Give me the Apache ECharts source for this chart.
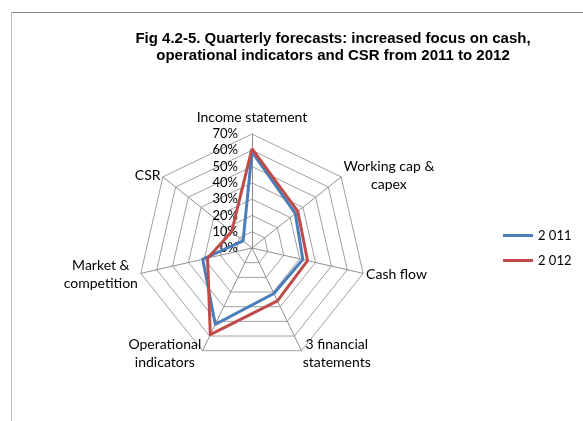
<!DOCTYPE html>
<html>
<head>
<meta charset="utf-8">
<script src="https://cdn.jsdelivr.net/npm/echarts@6/dist/echarts.min.js"></script>
<style>
html,body{margin:0;padding:0;background:#fff;}
#chart{width:583px;height:421px;}
</style>
</head>
<body>
<div id="chart"></div>
<script>
// Categories in clockwise order starting from the top
const categories = ['Income statement', 'Working cap &\ncapex', 'Cash flow', '3 financial\nstatements', 'Operational\nindicators', 'Market &\ncompetition', 'CSR'];
const tickLabels = ['0%', '10%', '20%', '30%', '40%', '50%', '60%', '70%'];
const values2011 = [59, 34, 32, 31, 52, 31, 7];
const values2012 = [61, 36, 35, 36, 59, 28, 16];
const seriesNames = ['2 011', '2 012'];

const axisMax = 70;
const axisStep = 10;

// ECharts radar goes counter-clockwise; reorder so the picture reads clockwise
const order = [0].concat(categories.map((_, i) => i).slice(1).reverse());
const reorder = arr => order.map(i => arr[i]);

const font = 'Lato, "Liberation Sans", sans-serif';

const indicators = reorder(categories).map((name, k) => {
  const ind = { name: name, min: 0, max: axisMax };
  if (k === 0) {
    ind.axisLabel = {
      show: true, margin: 14, color: '#000', fontSize: 13, fontFamily: font,
      formatter: v => tickLabels[Math.round(v / axisStep)]
    };
    ind.nameGap = 8;
    ind.nameTextStyle = { verticalAlign: 'bottom' };
  }
  return ind;
});

const chart = echarts.init(document.getElementById('chart'), null, { renderer: 'canvas' });
chart.setOption({
  animation: false,
  backgroundColor: '#fff',
  title: {
    text: 'Fig 4.2-5. Quarterly forecasts: increased focus on cash,\noperational indicators and CSR from 2011 to 2012',
    left: 333, top: 30, padding: 0, textAlign: 'center',
    textStyle: { fontFamily: '"Liberation Sans", Arial, sans-serif', fontWeight: 'bold', fontSize: 15, lineHeight: 17, color: '#000' }
  },
  graphic: [
    { type: 'line', shape: { x1: 11, y1: 12.5, x2: 583, y2: 12.5 }, style: { stroke: '#888', lineWidth: 1 } },
    { type: 'line', shape: { x1: 11.5, y1: 12, x2: 11.5, y2: 421 }, style: { stroke: '#bbb', lineWidth: 1 } }
  ],
  legend: {
    orient: 'vertical', left: 498, top: 224, itemGap: 12,
    icon: 'rect', itemWidth: 30, itemHeight: 3,
    textStyle: { fontFamily: font, fontSize: 13, color: '#000' },
    data: seriesNames
  },
  radar: {
    center: [252, 248],
    radius: 114,
    startAngle: 90,
    shape: 'polygon',
    splitNumber: axisMax / axisStep,
    nameGap: 3,
    axisName: {
      color: '#000', fontFamily: font, fontSize: 14, verticalAlign: 'middle', lineHeight: 18,
      formatter: name => name.split('\n').map(s => '{c|' + s + '}').join('\n'),
      rich: { c: { align: 'center', fontFamily: font, fontSize: 14, color: '#000', lineHeight: 18 } }
    },
    axisLabel: { show: false },
    axisLine: { lineStyle: { color: '#909090', width: 1 } },
    splitLine: { lineStyle: { color: '#a0a0a0', width: 1 } },
    splitArea: { show: false },
    indicator: indicators
  },
  series: [{
    type: 'radar',
    symbol: 'none',
    data: [
      { name: seriesNames[0], value: reorder(values2011), lineStyle: { color: '#4A7EBB', width: 3 }, itemStyle: { color: '#4A7EBB' } },
      { name: seriesNames[1], value: reorder(values2012), lineStyle: { color: '#BE4B48', width: 3 }, itemStyle: { color: '#BE4B48' } }
    ]
  }]
});
</script>
</body>
</html>
